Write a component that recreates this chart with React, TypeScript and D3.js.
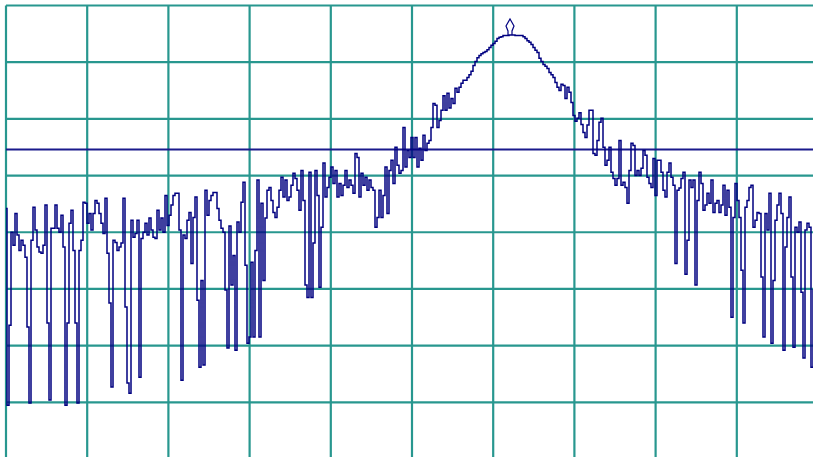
import React from "react";
import * as d3 from "d3";

// Spectrum trace, one reading per frequency bin (dB relative to reference level)
const levelsDb: number[] = [
  -35.8, -70.5, -56.4, -40.0, -42.3, -36.7, -40.5, -43.2, -41.4, -42.3,
  -44.4, -56.7, -70.1, -41.4, -35.6, -39.6, -42.6, -43.5, -43.7, -42.3,
  -35.2, -56.0, -69.6, -39.3, -39.3, -35.2, -39.3, -40.0, -37.0, -42.6,
  -70.5, -56.0, -38.4, -36.1, -43.2, -56.0, -70.1, -43.2, -41.4, -34.7,
  -34.9, -38.4, -36.7, -39.6, -36.7, -34.4, -34.9, -36.7, -38.4, -40.2,
  -34.0, -43.7, -52.5, -67.3, -41.4, -41.8, -43.2, -42.6, -41.9, -34.0,
  -53.2, -66.6, -68.4, -37.9, -40.9, -40.2, -37.9,
  -65.6, -41.1, -40.0, -38.4, -40.5, -37.5, -39.6, -40.9, -41.1, -36.1,
  -39.6, -37.5, -40.0, -33.5, -38.8, -37.0, -35.2, -33.5, -33.1, -33.1,
  -39.6, -66.1, -40.5, -41.1, -37.9, -36.5, -45.5, -37.4, -33.8, -52.0,
  -63.8, -48.5, -63.4, -32.6, -37.0, -34.4, -33.5, -33.0, -33.0, -35.8,
  -37.9, -39.3, -40.0, -50.2, -60.4, -38.9, -49.3, -44.1, -60.8, -38.2,
  -40.0, -34.7, -31.2, -45.8, -59.6, -58.5, -45.3, -58.5, -43.2, -30.8,
  -58.5, -34.9, -48.5, -37.5, -32.6,
  -32.1, -34.4, -36.5, -37.4, -35.6, -32.6, -30.3, -33.8, -30.8, -34.4,
  -33.8, -31.7, -29.6, -30.5, -32.6, -36.1, -29.1, -34.4, -49.3, -51.5,
  -29.4, -51.5, -41.9, -29.1, -33.5, -49.7, -39.1, -27.8, -33.8, -32.1,
  -30.3, -28.5, -31.4, -29.1, -33.8, -31.4, -33.5, -31.7, -29.1, -32.1,
  -30.8, -31.7, -33.1, -26.1, -26.8, -33.8, -29.6, -31.7, -30.3, -32.6,
  -30.8, -32.1, -32.6, -39.1, -37.4, -32.6, -37.4, -33.5, -28.5, -36.7,
  -29.1, -27.3, -31.4, -25.0, -28.2, -29.6, -29.1, -21.5,
  -28.5, -25.6, -26.8, -23.3, -26.8, -23.3, -28.5, -25.2, -27.3, -22.9,
  -25.6, -24.3, -23.8, -21.5, -17.3, -17.6, -21.5, -20.3, -18.5, -15.9,
  -18.5, -15.5, -18.1, -16.4, -17.3, -14.6, -15.3, -14.4, -13.7, -13.2,
  -13.2, -12.7, -12.2, -11.6, -10.6, -9.9, -9.2, -8.8, -8.5, -8.3,
  -8.1, -7.8, -7.4, -7.0, -6.7, -6.3, -5.8, -5.6, -5.5, -5.3,
  -5.3, -5.3, -5.2, -5.2, -5.2, -5.3, -5.3, -5.3, -5.3, -5.5,
  -5.8, -6.2, -6.5, -6.9, -7.4, -7.9, -8.3, -9.3, -9.9, -10.4,
  -10.7, -11.1, -11.8, -12.2, -12.7, -13.6, -14.4, -15.0, -13.9, -14.1,
  -16.4, -14.4, -15.3, -17.1, -19.4, -20.4, -19.9, -18.9, -21.0, -22.4,
  -23.3, -21.1, -18.5, -18.5, -26.1, -26.4, -23.8, -20.6, -19.9, -25.0,
  -28.2, -27.3, -25.0, -29.4, -30.5, -31.7, -30.5, -23.8, -31.7, -31.2,
  -32.1, -34.9, -29.1, -24.3, -24.7, -30.0, -29.1, -30.0, -28.7, -25.6,
  -26.4, -30.3, -31.4, -32.1, -27.0, -33.5, -27.3, -27.3, -29.4, -32.6,
  -33.8, -29.4, -27.8, -30.3, -31.7,
  -45.5, -32.6, -32.2, -30.5, -29.4, -47.4, -41.4, -30.8, -32.1, -30.8,
  -49.3, -34.4, -29.4, -31.4, -36.1, -35.2, -33.1, -34.9, -30.8, -36.5,
  -34.9, -34.4, -36.5, -35.2, -31.7, -37.0, -32.6, -35.6, -55.0, -37.4,
  -31.4, -34.4, -37.4, -46.7, -56.0, -35.6, -34.4, -32.1, -31.7, -39.1,
  -37.9, -36.5, -36.7, -47.9, -58.5, -36.7, -39.6, -33.1, -59.6, -48.5,
  -37.9, -35.2, -33.1, -36.7, -60.8, -42.6, -37.4, -33.8, -47.9, -60.3,
  -39.1, -40.0, -38.2, -50.6, -62.2, -39.6, -38.4, -39.1, -63.8, -50.2,
  -39.6, -38.8,
];

const thresholdDb = -25.4;
const markerBin = 252;
const refLevelDb = 0;
const dbPerDiv = 10;
const verticalDivs = 8;
const horizontalDivs = 10;

export default function App() {
  const W = 813;
  const H = 457;
  const left = 6;
  const right = 818;

  const x = d3.scaleLinear().domain([0, levelsDb.length - 1]).range([left, right]);
  const xDiv = d3.scaleLinear().domain([0, horizontalDivs]).range([left, right]);
  const y = d3
    .scaleLinear()
    .domain([refLevelDb, refLevelDb - dbPerDiv * verticalDivs])
    .range([5.5, 459]);

  const line = d3
    .line<number>()
    .x((_, i) => x(i))
    .y((d) => y(d))
    .curve(d3.curveStep);

  const gridX = d3.range(0, horizontalDivs + 1);
  const gridY = d3.range(0, verticalDivs + 1).map((k) => refLevelDb - k * dbPerDiv);

  const mx = x(markerBin);
  const my = y(levelsDb[markerBin]);

  return (
    <div style={{ position: "fixed", left: 0, top: 0, width: W, height: H, background: "#fff" }}>
      <svg width={W} height={H} style={{ display: "block" }}>
        <rect x={0} y={0} width={W} height={H} fill="#ffffff" />
        <g stroke="#28978f" strokeWidth={2.2}>
          {gridX.map((k) => (
            <line key={"gx" + k} x1={xDiv(k)} x2={xDiv(k)} y1={y(refLevelDb)} y2={H + 5} />
          ))}
          {gridY.map((v) => (
            <line key={"gy" + v} x1={left} x2={W + 5} y1={y(v)} y2={y(v)} />
          ))}
        </g>
        <line
          x1={left}
          x2={W + 5}
          y1={y(thresholdDb)}
          y2={y(thresholdDb)}
          stroke="#1a1a8c"
          strokeWidth={2}
        />
        <path d={line(levelsDb) || ""} fill="none" stroke="#000080" strokeWidth={1.5} />
        <path
          d={`M${mx - 2},${my} L${mx - 2},${my - 4} L${mx - 4},${my - 9} L${mx},${my - 16} L${mx + 4},${my - 9} L${mx + 2},${my - 4} L${mx + 2},${my}`}
          fill="none"
          stroke="#000080"
          strokeWidth={1.2}
        />
      </svg>
    </div>
  );
}
